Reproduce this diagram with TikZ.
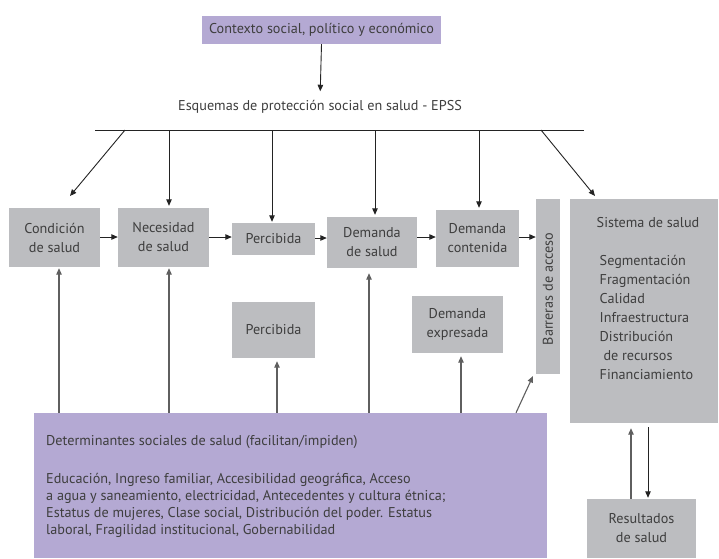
\documentclass[tikz,border=0pt]{standalone}
\usepackage{fontspec}
\setmainfont{PT Sans}
\usetikzlibrary{arrows.meta,calc}
\definecolor{boxgray}{RGB}{188,189,192}
\definecolor{boxpurple}{RGB}{180,169,211}
\definecolor{txt}{RGB}{62,62,62}
\definecolor{ln}{RGB}{35,35,35}
\definecolor{lnup}{RGB}{95,95,95}
\begin{document}
\begin{tikzpicture}[x=1pt,y=-1pt,
  base/.style={inner sep=0pt, text=txt, align=center, font=\fontsize{14.2}{19}\selectfont},
  gbox/.style={base, fill=boxgray},
  pbox/.style={base, fill=boxpurple},
  arr/.style={draw=ln, line width=0.9pt, -{Triangle[length=6.5pt,width=5.5pt]}},
  uparr/.style={draw=lnup, line width=1.1pt, -{Triangle[length=6.5pt,width=5.5pt]}},
  plain/.style={draw=ln, line width=0.9pt}]
\useasboundingbox (0,0) rectangle (719,558);
\fill[white] (0,0) rectangle (719,558);

% boxes
\node[pbox, minimum width=239, minimum height=28] (ctx) at (321.5,30) {Contexto social, político y económico};
\node[base] (epss) at (320,107) {Esquemas de protección social en salud - EPSS};
\coordinate (hl1) at (95,130);
\coordinate (hl2) at (584,130);

\node[gbox, minimum width=91, minimum height=59] (cond) at (54.5,237.5) {Condición\\de salud};
\node[gbox, minimum width=91, minimum height=59] (nec) at (163.5,237.5) {Necesidad\\de salud};
\node[gbox, minimum width=83, minimum height=32] (perc1) at (273.5,239) {Percibida};
\node[gbox, minimum width=90, minimum height=51] (dsal) at (372,242.5) {Demanda\\de salud};
\node[gbox, minimum width=83, minimum height=57] (dcon) at (477.5,238.5) {Demanda\\contenida};
\node[gbox, minimum width=24, minimum height=175] (barr) at (548,286.5) {};
\node[base, rotate=90] (barrtxt) at (548,289) {Barreras de acceso};
\node[gbox, minimum width=148, minimum height=224] (sis) at (644,311) {};
\node[base, anchor=west] (sistit) at (596.5,223) {Sistema de salud};
\node[base, anchor=north west, align=left, font=\fontsize{14.2}{19}\selectfont] (sislist) at (599.5,255)
  {Segmentación\\Fragmentación\\Calidad\\Infraestructura\\Distribución\\\ de recursos\\Financiamiento};
\node[gbox, minimum width=83, minimum height=56] (perc2) at (273.5,330) {Percibida};
\node[gbox, minimum width=91, minimum height=57] (dexp) at (457.5,324.5) {Demanda\\expresada};
\node[pbox, minimum width=513, minimum height=145] (det) at (290.5,485.5) {};
\node[base, anchor=west] (dettit) at (46,442) {Determinantes sociales de salud (facilitan/impiden)};
\node[base, anchor=north west, align=left, font=\fontsize{14.2}{17}\selectfont] (detbody) at (46,473)
  {Educación, Ingreso familiar, Accesibilidad geográfica, Acceso\\a agua y saneamiento, electricidad, Antecedentes y cultura étnica;\\Estatus de mujeres, Clase social, Distribución del poder. Estatus\\laboral, Fragilidad institucional, Gobernabilidad};
\node[gbox, minimum width=109, minimum height=59] (res) at (641.5,528.5) {Resultados\\de salud};

% top connectors
\draw[arr, shorten >=9pt] (ctx.south) -- (epss.north);
\draw[plain] (hl1) -- (hl2);
\coordinate (dl) at (70,196);
\coordinate (dr) at (595,196);
\draw[arr] (hl1 -| 125,0) -- (dl);
\draw[arr, shorten >=2pt] (hl1 -| 169,0) -- (169,0 |- nec.north);
\draw[arr, shorten >=1pt] (hl1 -| 272,0) -- (272,0 |- perc1.north);
\draw[arr, shorten >=2pt] (hl1 -| 375,0) -- (375,0 |- dsal.north);
\draw[arr, shorten >=2pt] (hl1 -| 479,0) -- (479,0 |- dcon.north);
\draw[arr] (hl1 -| 541,0) -- (dr);

% horizontal chain
\draw[arr] (cond.east |- 0,237) -- (nec.west |- 0,237);
\draw[arr] (nec.east |- 0,237) -- (perc1.west |- 0,237);
\draw[arr] (perc1.east |- 0,238) -- (dsal.west |- 0,238);
\draw[arr] (dsal.east |- 0,237) -- (dcon.west |- 0,237);
\draw[arr] (dcon.east |- 0,237) -- (barr.west |- 0,237);

% up connectors from determinantes
\draw[uparr, shorten >=1pt] (59,0 |- det.north) -- (59,0 |- cond.south);
\draw[uparr, shorten >=1pt] (169,0 |- det.north) -- (169,0 |- nec.south);
\draw[uparr, shorten >=3pt] (277,0 |- det.north) -- (277,0 |- perc2.south);
\draw[uparr, shorten >=5pt] (369,0 |- det.north) -- (369,0 |- dsal.south);
\draw[uparr, shorten >=3pt] (461,0 |- det.north) -- (461,0 |- dexp.south);
\coordinate (bb) at (533,376);
\draw[uparr] (516,0 |- det.north) -- (bb);

% sistema <-> resultados
\draw[uparr, shorten >=5pt] (631,0 |- res.north) -- (631,0 |- sis.south);
\draw[arr, shorten <=4pt, shorten >=1pt] (648,0 |- sis.south) -- (648,0 |- res.north);
\end{tikzpicture}
\end{document}
